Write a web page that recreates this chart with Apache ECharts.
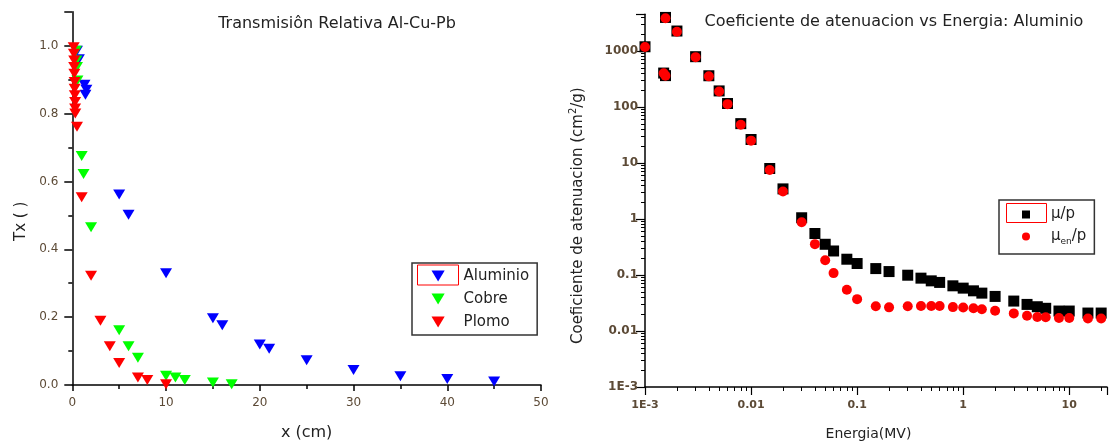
<!DOCTYPE html>
<html>
<head>
<meta charset="utf-8">
<script src="https://cdn.jsdelivr.net/npm/echarts@6/dist/echarts.min.js"></script>
<style>html,body{margin:0;padding:0;background:#fff;}#c{width:1110px;height:446px;}</style>
</head>
<body>
<div id="c"></div>
<script>
// ---- Left chart data: relative transmission vs thickness ----
const aluX = [0.5, 0.7, 1.3, 1.5, 1.4, 5, 6, 10, 15, 16, 20, 21, 25, 30, 35, 40, 45];
const aluY = [0.985, 0.96, 0.885, 0.87, 0.855, 0.561, 0.502, 0.329, 0.197, 0.176, 0.119, 0.107, 0.073, 0.044, 0.026, 0.018, 0.010];
const cuX = [0.4, 0.45, 0.5, 0.55, 1.0, 1.2, 2, 5, 6, 7, 10, 11, 12, 15, 17];
const cuY = [0.985, 0.956, 0.937, 0.897, 0.675, 0.622, 0.465, 0.161, 0.114, 0.080, 0.027, 0.022, 0.015, 0.007, 0.002];
const pbX = [0.15, 0.17, 0.2, 0.2, 0.22, 0.25, 0.25, 0.27, 0.3, 0.3, 0.32, 0.5, 1, 2, 3, 4, 5, 7, 8, 10];
const pbY = [0.995, 0.976, 0.956, 0.937, 0.917, 0.893, 0.873, 0.854, 0.834, 0.815, 0.800, 0.761, 0.553, 0.322, 0.189, 0.114, 0.065, 0.022, 0.015, 0.002];

// ---- Right chart data: attenuation coefficients of aluminium vs energy ----
const energy = [0.001, 0.0015, 0.00156, 0.00156, 0.002, 0.003, 0.004, 0.005, 0.006, 0.008, 0.01, 0.015, 0.02, 0.03, 0.04, 0.05, 0.06, 0.08, 0.1, 0.15, 0.2, 0.3, 0.4, 0.5, 0.6, 0.8, 1, 1.25, 1.5, 2, 3, 4, 5, 6, 8, 10, 15, 20];
const muRho = [1185, 402, 362, 3957, 2263, 788, 360, 193, 115, 50.3, 26.2, 7.96, 3.44, 1.05, 0.55, 0.353, 0.268, 0.191, 0.16, 0.13, 0.115, 0.099, 0.0877, 0.0785, 0.0736, 0.064, 0.0582, 0.0521, 0.0474, 0.0414, 0.0342, 0.0298, 0.0271, 0.0254, 0.0227, 0.0227, 0.0209, 0.0209];
const muEnRho = [1170, 400, 360, 3829, 2204, 773, 351, 188, 112, 48.2, 25, 7.5, 3.1, 0.87, 0.355, 0.183, 0.108, 0.0543, 0.037, 0.0276, 0.0264, 0.0276, 0.028, 0.028, 0.028, 0.0267, 0.0262, 0.0255, 0.0245, 0.023, 0.0206, 0.0187, 0.0178, 0.0176, 0.017, 0.017, 0.0167, 0.0167];

const zip = (a, b) => a.map((v, i) => [v, b[i]]);
const FONT = 'DejaVu Sans';
const LBL = '#5c4a36';
const TXT = '#222';
const DOWN_TRI = 'path://M0,0L12,0L6,10Z';
const SQUARE = 'path://M0,0L8,0L8,8L0,8Z';
const DOT = 'path://M4,0A4,4,0,1,1,4,8A4,4,0,1,1,4,0Z';

function logLabel(v) {
  const l = Math.log10(v);
  const e = Math.round(l);
  if (Math.abs(l - e) > 1e-6) return '';
  if (e <= -3) return '1E' + e;
  if (e < 0) return v.toFixed(-e);
  return String(Math.round(Math.pow(10, e)));
}

const chart = echarts.init(document.getElementById('c'), null, {renderer: 'canvas'});
const tri = {symbol: 'triangle', symbolRotate: 180, symbolSize: [12, 10]};

chart.setOption({
  backgroundColor: '#fff',
  animation: false,
  textStyle: {fontFamily: FONT},
  title: [
    {text: 'Transmisiôn Relativa Al-Cu-Pb', left: 332, top: 11, textAlign: 'center',
     textStyle: {fontFamily: FONT, fontSize: 16, fontWeight: 'normal', color: TXT}},
    {text: 'Coeficiente de atenuacion vs Energia: Aluminio', left: 889, top: 9, textAlign: 'center',
     textStyle: {fontFamily: FONT, fontSize: 16, fontWeight: 'normal', color: TXT}}
  ],
  grid: [
    {left: 72.3, top: 11.7, width: 468.7, height: 375},
    {left: 645, top: 14.3, width: 465, height: 374}
  ],
  legend: [
    {
      data: [{name: 'Aluminio', icon: DOWN_TRI}, {name: 'Cobre', icon: DOWN_TRI}, {name: 'Plomo', icon: DOWN_TRI}],
      orient: 'vertical', left: 412, top: 263, symbolKeepAspect: true, symbolRotate: 0,
      padding: [5, 8, 5, 19.5], itemGap: 7, itemWidth: 41, itemHeight: 11,
      borderColor: '#333', borderWidth: 1.5, backgroundColor: '#fff',
      textStyle: {fontFamily: FONT, fontSize: 15, color: TXT, lineHeight: 16}
    },
    {
      data: [{name: 'μ/p', icon: SQUARE}, {name: 'μen/p', icon: DOT}],
      orient: 'vertical', left: 999, top: 200, symbolKeepAspect: true,
      padding: [7, 8, 8, 23], itemGap: 7, itemWidth: 40, itemHeight: 8,
      borderColor: '#333', borderWidth: 1.5, backgroundColor: '#fff',
      formatter: n => n === 'μen/p' ? '{n|μ}{s|en}{n|/p}' : '{n|μ/p}',
      textStyle: {fontFamily: FONT, fontSize: 15, color: TXT,
        rich: {n: {fontFamily: FONT, fontSize: 15, color: TXT, lineHeight: 18},
               s: {fontFamily: FONT, fontSize: 9, color: TXT, padding: [10, 0, 0, 0]}}}
    }
  ],
  graphic: [
    {type: 'rect', z: 100, shape: {x: 417.5, y: 265, width: 41, height: 20}, style: {fill: 'none', stroke: '#ff0000', lineWidth: 1}},
    {type: 'rect', z: 100, shape: {x: 1006.5, y: 203.5, width: 40, height: 19}, style: {fill: 'none', stroke: '#ff0000', lineWidth: 1}}
  ],
  xAxis: [
    {
      gridIndex: 0, type: 'value', min: 0, max: 50, interval: 10,
      name: 'x (cm)', nameLocation: 'middle', nameGap: 40,
      nameTextStyle: {fontFamily: FONT, fontSize: 16, color: TXT},
      axisLine: {onZero: false, lineStyle: {color: '#000', width: 1.5}},
      axisTick: {length: 6, lineStyle: {color: '#000', width: 1.5}},
      minorTick: {show: true, splitNumber: 2, length: 4, lineStyle: {color: '#000', width: 1.5}},
      axisLabel: {fontFamily: FONT, fontSize: 12, color: LBL, margin: 12},
      splitLine: {show: false}
    },
    {
      gridIndex: 1, type: 'log', logBase: 10, min: 0.001, max: 22.7,
      name: 'Energia(MV)', nameLocation: 'middle', nameGap: 40,
      nameTextStyle: {fontFamily: FONT, fontSize: 14, color: TXT, padding: [0, 15, 0, 0]},
      axisLine: {onZero: false, lineStyle: {color: '#000', width: 1.5}},
      axisTick: {length: 8, lineStyle: {color: '#000', width: 1.2}},
      minorTick: {show: true, splitNumber: 9, length: 4, lineStyle: {color: '#000', width: 1}},
      axisLabel: {fontFamily: FONT, fontSize: 11, fontWeight: 'bold', color: LBL, margin: 13, interval: 0, formatter: logLabel},
      splitLine: {show: false}
    }
  ],
  yAxis: [
    {
      gridIndex: 0, type: 'value', min: 0, max: 1.1, interval: 0.2,
      name: 'Tx ( )', nameLocation: 'middle', nameGap: 44,
      nameTextStyle: {fontFamily: FONT, fontSize: 15, color: TXT, padding: [0, 46, 0, 0]},
      axisLine: {onZero: false, lineStyle: {color: '#000', width: 1.5}},
      axisTick: {length: 8, lineStyle: {color: '#000', width: 1.5}},
      minorTick: {show: true, splitNumber: 2, length: 4, lineStyle: {color: '#000', width: 1.5}},
      axisLabel: {fontFamily: FONT, fontSize: 12, color: LBL, margin: 14,
        formatter: v => v > 1.05 ? '' : v.toFixed(1)},
      splitLine: {show: false}
    },
    {
      gridIndex: 1, type: 'log', logBase: 10, min: 0.001, max: 4500,
      name: '{a|Coeficiente de atenuacion (cm}{sup|2}{a|/g)}', nameLocation: 'middle', nameGap: 57,
      nameTextStyle: {fontFamily: FONT, fontSize: 15, color: TXT, padding: [0, 30, 0, 0],
        rich: {a: {fontFamily: FONT, fontSize: 15, color: TXT},
               sup: {fontFamily: FONT, fontSize: 10, color: TXT, padding: [0, 0, 10, 0]}}},
      axisLine: {onZero: false, lineStyle: {color: '#000', width: 1.5}},
      axisTick: {length: 9, lineStyle: {color: '#000', width: 1.2}},
      minorTick: {show: true, splitNumber: 9, length: 4, lineStyle: {color: '#000', width: 1}},
      axisLabel: {fontFamily: FONT, fontSize: 12, fontWeight: 'bold', color: LBL, margin: 7, interval: 0, formatter: logLabel},
      splitLine: {show: false}
    }
  ],
  series: [
    Object.assign({name: 'Aluminio', type: 'scatter', xAxisIndex: 0, yAxisIndex: 0, data: zip(aluX, aluY),
      itemStyle: {color: '#0000ff', opacity: 1}}, tri),
    Object.assign({name: 'Cobre', type: 'scatter', xAxisIndex: 0, yAxisIndex: 0, data: zip(cuX, cuY),
      itemStyle: {color: '#00ff00', opacity: 1}}, tri),
    Object.assign({name: 'Plomo', type: 'scatter', xAxisIndex: 0, yAxisIndex: 0, data: zip(pbX, pbY),
      itemStyle: {color: '#ff0000', opacity: 1}}, tri),
    {name: 'μ/p', type: 'scatter', xAxisIndex: 1, yAxisIndex: 1, data: zip(energy, muRho),
      symbol: 'rect', symbolSize: 11, itemStyle: {color: '#000', opacity: 1}},
    {name: 'μen/p', type: 'scatter', xAxisIndex: 1, yAxisIndex: 1, data: zip(energy, muEnRho),
      symbol: 'circle', symbolSize: 10, itemStyle: {color: '#ff0000', opacity: 1}}
  ]
});
</script>
</body>
</html>
